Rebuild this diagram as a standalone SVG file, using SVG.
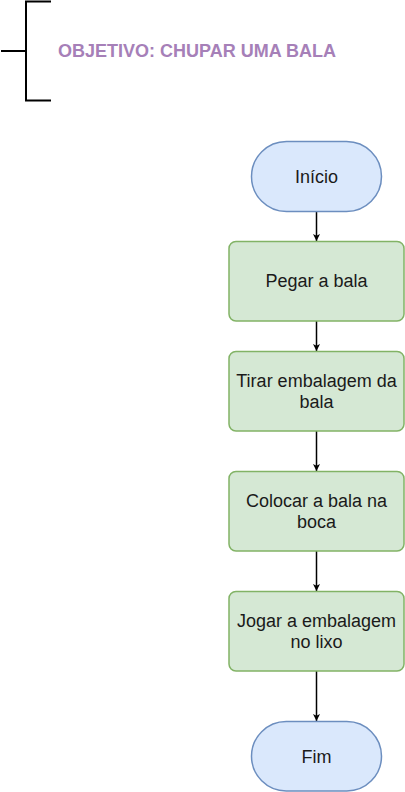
<svg xmlns="http://www.w3.org/2000/svg" width="405" height="792" viewBox="0 0 405 792">
<style>
.term{fill:#dae8fc;stroke:#6c8ebf;stroke-width:1.5}
.proc{fill:#d5e8d4;stroke:#82b366;stroke-width:1.5}
.lbl{font-family:"Liberation Sans",Arial,sans-serif;font-size:18px;fill:#1a1a1a;text-anchor:middle}
.edge{stroke:#000;stroke-width:1.5;fill:none}
.title{font-family:"Liberation Sans",Arial,sans-serif;font-size:18px;font-weight:bold;fill:#a680b8}
</style>
<defs>
<marker id="arr" markerWidth="8" markerHeight="8" refX="7" refY="4" orient="auto" markerUnits="userSpaceOnUse">
<path d="M0,0.5 L7,4 L0,7.5 L1.8,4 Z" fill="#000"/>
</marker>
</defs>
<rect width="405" height="792" fill="#fff"/>
<g id="annotation">
<path d="M51,1.5 H26 V100.5 H51 M1,51 H26" stroke="#000" stroke-width="2" fill="none"/>
<text class="title" x="58" y="57">OBJETIVO: CHUPAR UMA BALA</text>
</g>
<g id="connectors">
<path class="edge" d="M316.5,211 V241" marker-end="url(#arr)"/>
<path class="edge" d="M316.5,321 V351" marker-end="url(#arr)"/>
<path class="edge" d="M316.5,431 V471" marker-end="url(#arr)"/>
<path class="edge" d="M316.5,551 V591" marker-end="url(#arr)"/>
<path class="edge" d="M316.5,671 V721" marker-end="url(#arr)"/>
</g>
<g id="inicio">
<rect class="term" x="251.5" y="141.5" width="130" height="70" rx="35"/>
<text class="lbl" x="316.5" y="183">Início</text>
</g>
<g id="pegar">
<rect class="proc" x="229" y="241.5" width="175" height="79.5" rx="7"/>
<text class="lbl" x="316.5" y="287">Pegar a bala</text>
</g>
<g id="tirar">
<rect class="proc" x="229" y="351.5" width="175" height="79.5" rx="7"/>
<text class="lbl" x="316.5" y="387">Tirar embalagem da</text>
<text class="lbl" x="316.5" y="408">bala</text>
</g>
<g id="colocar">
<rect class="proc" x="229" y="471.5" width="175" height="79.5" rx="7"/>
<text class="lbl" x="316.5" y="507">Colocar a bala na</text>
<text class="lbl" x="316.5" y="528">boca</text>
</g>
<g id="jogar">
<rect class="proc" x="229" y="591.5" width="175" height="79.5" rx="7"/>
<text class="lbl" x="316.5" y="627">Jogar a embalagem</text>
<text class="lbl" x="316.5" y="648">no lixo</text>
</g>
<g id="fim">
<rect class="term" x="251.5" y="721.5" width="130" height="69.5" rx="34.75"/>
<text class="lbl" x="316.5" y="763">Fim</text>
</g>
</svg>
